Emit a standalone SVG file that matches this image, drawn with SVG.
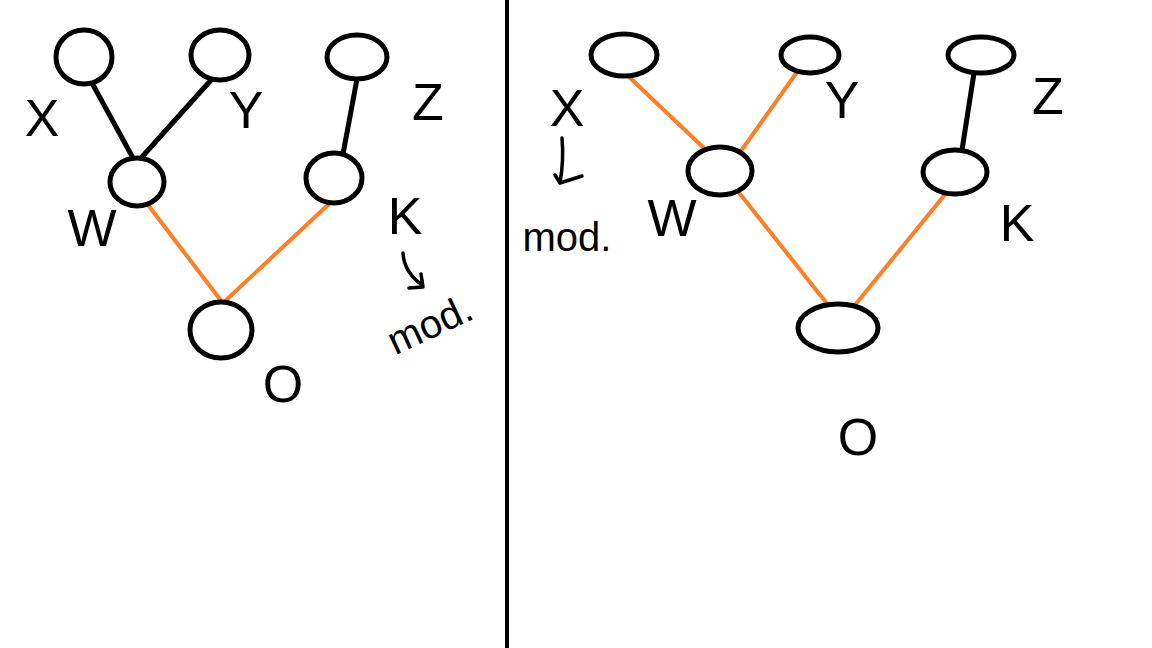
<svg xmlns="http://www.w3.org/2000/svg" width="1152" height="648" viewBox="0 0 1152 648">
<style>
.node{fill:#fff;stroke:#000;stroke-width:5}
.blk{stroke:#000;stroke-width:5;fill:none;stroke-linecap:round}
.org{stroke:#ff7f27;stroke-width:4;fill:none;stroke-linecap:round}
.lbl{font-family:"Liberation Sans",Arial,sans-serif;font-size:52px;fill:#000}
.sm{font-family:"Liberation Sans",Arial,sans-serif;font-size:40px;fill:#000}
.arr{stroke:#000;stroke-width:3.5;fill:none;stroke-linecap:round;stroke-linejoin:round}
</style>
<rect width="1152" height="648" fill="#fff"/>
<line x1="507" y1="0" x2="507" y2="648" stroke="#000" stroke-width="4"/>
<g id="connectors">
<line class="blk" x1="92" y1="83" x2="133" y2="158"/>
<line class="blk" x1="212" y1="79" x2="141" y2="158"/>
<line class="blk" x1="357" y1="79" x2="343" y2="154"/>
<line class="org" x1="148" y1="205" x2="222" y2="302"/>
<line class="org" x1="330" y1="203" x2="224" y2="302"/>
<line class="org" x1="628" y1="76" x2="707" y2="151"/>
<line class="org" x1="797" y1="72" x2="741" y2="151"/>
<line class="blk" x1="974" y1="73" x2="962" y2="150"/>
<line class="org" x1="740" y1="194" x2="828" y2="305"/>
<line class="org" x1="947" y1="192" x2="855" y2="305"/>
</g>
<g id="L_X"><ellipse class="node" cx="84" cy="57" rx="28" ry="27"/><text class="lbl" x="42" y="136" text-anchor="middle">X</text></g>
<g id="L_Y"><ellipse class="node" cx="220" cy="55" rx="29" ry="25"/><text class="lbl" x="246" y="128" text-anchor="middle">Y</text></g>
<g id="L_Z"><ellipse class="node" cx="357" cy="57" rx="30" ry="22"/><text class="lbl" x="428" y="120" text-anchor="middle">Z</text></g>
<g id="L_W"><ellipse class="node" cx="137" cy="182" rx="27" ry="24"/><text class="lbl" x="92" y="246" text-anchor="middle">W</text></g>
<g id="L_K"><ellipse class="node" cx="334" cy="178" rx="28" ry="25"/><text class="lbl" x="405" y="234" text-anchor="middle">K</text>
<path class="arr" d="M403 253 Q404 272 422 285 M409 288 L423 287 L421 274"/>
<text class="sm" x="430" y="338" text-anchor="middle" transform="rotate(-25 430 325)">mod.</text></g>
<g id="L_O"><ellipse class="node" cx="221" cy="330" rx="31" ry="28"/><text class="lbl" x="283" y="402" text-anchor="middle">O</text></g>
<g id="R_X"><ellipse class="node" cx="624" cy="55" rx="33" ry="21"/><text class="lbl" x="567" y="126" text-anchor="middle">X</text>
<path class="arr" d="M562 138 Q564 160 560 183 M555 175 L560 183 L582 176"/>
<text class="sm" x="567" y="251" text-anchor="middle">mod.</text></g>
<g id="R_Y"><ellipse class="node" cx="810" cy="55" rx="29" ry="18"/><text class="lbl" x="842" y="118" text-anchor="middle">Y</text></g>
<g id="R_Z"><ellipse class="node" cx="981" cy="55" rx="33" ry="18"/><text class="lbl" x="1048" y="114" text-anchor="middle">Z</text></g>
<g id="R_W"><ellipse class="node" cx="720" cy="171" rx="32" ry="24"/><text class="lbl" x="672" y="236" text-anchor="middle">W</text></g>
<g id="R_K"><ellipse class="node" cx="955" cy="172" rx="32" ry="22"/><text class="lbl" x="1017" y="241" text-anchor="middle">K</text></g>
<g id="R_O"><ellipse class="node" cx="838" cy="328" rx="40" ry="24"/><text class="lbl" x="858" y="455" text-anchor="middle">O</text></g>
</svg>
